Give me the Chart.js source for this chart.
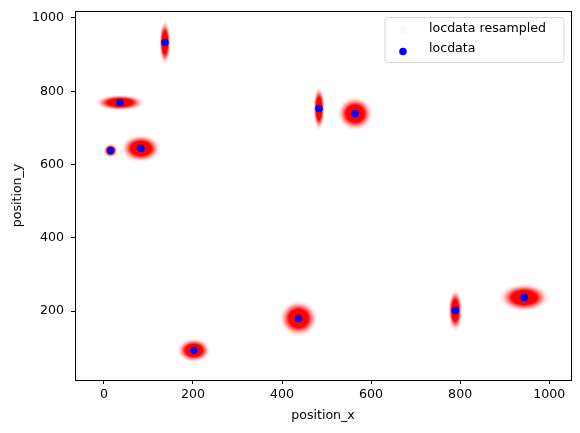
<!DOCTYPE html>
<html>
<head>
<meta charset="utf-8">
<script src="https://cdn.jsdelivr.net/npm/chart.js@4/dist/chart.umd.min.js"></script>
<style>
  html, body { margin: 0; padding: 0; background: #fff; }
  #wrap { width: 580px; height: 433px; }
</style>
</head>
<body>
<div id="wrap"><canvas id="plot" width="580" height="433"></canvas></div>
<script>
// localization centers
const locX = [15, 36, 83, 137, 202, 437, 483, 564, 789, 944];
const locY = [638, 769, 644, 933, 93, 180, 753, 739, 202, 237];
// spread of the resampled cloud around each center (data units)
const spreadX = [16, 56, 45, 13, 38, 43, 13, 40, 16, 56];
const spreadY = [19, 22, 38, 60, 33, 49, 60, 46, 57, 38];

const xTicks = [0, 200, 400, 600, 800, 1000];
const yTicks = [200, 400, 600, 800, 1000];

const FONT = "'DejaVu Sans', sans-serif";
Chart.defaults.font.family = FONT;
Chart.defaults.font.size = 12.6;
Chart.defaults.color = '#000';

const points = locX.map((x, i) => ({ x: x, y: locY[i] }));
const cloudPoints = locX.map((x, i) => ({ x: x, y: locY[i], sx: spreadX[i], sy: spreadY[i] }));

// draws each resampled cloud as a soft red ellipse sized through the scales
const cloudPlugin = {
  id: 'clouds',
  beforeDatasetsDraw(chart) {
    const ctx = chart.ctx;
    const xs = chart.scales.x, ys = chart.scales.y;
    const area = chart.chartArea;
    ctx.save();
    ctx.beginPath();
    ctx.rect(area.left, area.top, area.right - area.left, area.bottom - area.top);
    ctx.clip();
    chart.data.datasets[0].data.forEach(p => {
      const px = xs.getPixelForValue(p.x);
      const py = ys.getPixelForValue(p.y);
      const rx = Math.abs(xs.getPixelForValue(p.x + p.sx) - px);
      const ry = Math.abs(ys.getPixelForValue(p.y + p.sy) - py);
      ctx.save();
      ctx.translate(px, py);
      ctx.scale(rx, ry);
      const g = ctx.createRadialGradient(0, 0, 0, 0, 0, 1);
      g.addColorStop(0, 'rgba(255,0,0,1)');
      g.addColorStop(0.5, 'rgba(255,0,0,1)');
      g.addColorStop(0.7, 'rgba(255,0,0,0.45)');
      g.addColorStop(0.85, 'rgba(255,0,0,0.12)');
      g.addColorStop(1, 'rgba(255,0,0,0)');
      ctx.fillStyle = g;
      ctx.beginPath();
      ctx.arc(0, 0, 1, 0, Math.PI * 2);
      ctx.fill();
      ctx.restore();
    });
    ctx.restore();
  }
};

// frame on all four sides + legend box in upper right
const framePlugin = {
  id: 'frame',
  afterDraw(chart) {
    const ctx = chart.ctx;
    const a = chart.chartArea;
    ctx.save();
    ctx.strokeStyle = '#000';
    ctx.lineWidth = 1;
    ctx.strokeRect(Math.round(a.left) + 0.5, Math.round(a.top) + 0.5,
      Math.round(a.right - a.left), Math.round(a.bottom - a.top));

    // legend
    const bx = 385, by = 17.5, bw = 179, bh = 45, r = 3;
    ctx.beginPath();
    ctx.moveTo(bx + r, by);
    ctx.arcTo(bx + bw, by, bx + bw, by + bh, r);
    ctx.arcTo(bx + bw, by + bh, bx, by + bh, r);
    ctx.arcTo(bx, by + bh, bx, by, r);
    ctx.arcTo(bx, by, bx + bw, by, r);
    ctx.closePath();
    ctx.fillStyle = 'rgba(255,255,255,0.8)';
    ctx.fill();
    ctx.strokeStyle = '#d6d6d6';
    ctx.stroke();

    const ds = chart.data.datasets;
    ctx.font = '12.6px ' + FONT;
    ctx.textBaseline = 'middle';
    ctx.fillStyle = '#000';
    ctx.fillText(ds[0].label, 429, 28.5);
    ctx.fillText(ds[1].label, 429, 48.5);
    ctx.beginPath();
    ctx.arc(403, 30, 3.8, 0, Math.PI * 2);
    ctx.fillStyle = 'rgba(255,0,0,0.04)';
    ctx.fill();
    ctx.beginPath();
    ctx.arc(403, 51.5, 3.8, 0, Math.PI * 2);
    ctx.fillStyle = '#0000ff';
    ctx.fill();
    ctx.restore();
  }
};

new Chart(document.getElementById('plot'), {
  type: 'scatter',
  data: {
    datasets: [
      {
        label: 'locdata resampled',
        data: cloudPoints,
        pointRadius: 0,
        pointHoverRadius: 0,
        backgroundColor: 'rgba(255,0,0,0.05)'
      },
      {
        label: 'locdata',
        data: points,
        pointRadius: 3.8,
        pointHoverRadius: 3.8,
        borderWidth: 0,
        backgroundColor: '#0000ff',
        borderColor: '#0000ff'
      }
    ]
  },
  options: {
    responsive: false,
    animation: false,
    layout: { padding: { top: 11, right: 9, left: 0, bottom: 0 } },
    plugins: { legend: { display: false }, tooltip: { enabled: false } },
    scales: {
      x: {
        type: 'linear',
        min: -65,
        max: 1049,
        afterFit: s => { s.height = 53; s.paddingLeft = 0; s.paddingRight = 0; },
        afterBuildTicks: s => { s.ticks = xTicks.map(v => ({ value: v })); },
        ticks: { padding: 3, color: '#000', font: { size: 12.6 }, callback: v => String(v) },
        grid: { display: true, drawOnChartArea: false, tickLength: 4, color: '#000' },
        border: { display: true, color: '#000', width: 1 },
        title: { display: true, text: 'position_x', color: '#000', font: { size: 12.6 }, padding: { top: 0, bottom: 10 } }
      },
      y: {
        type: 'linear',
        min: 12,
        max: 1019,
        afterFit: s => { s.width = 75; s.paddingTop = 0; s.paddingBottom = 0; },
        afterBuildTicks: s => { s.ticks = yTicks.map(v => ({ value: v })); },
        ticks: { padding: 7, color: '#000', font: { size: 12.6 }, callback: v => String(v) },
        grid: { display: true, drawOnChartArea: false, tickLength: 4, color: '#000' },
        border: { display: true, color: '#000', width: 1 },
        title: { display: true, text: 'position_y', color: '#000', font: { size: 12.6 }, padding: { top: 10, bottom: 0 } }
      }
    }
  },
  plugins: [cloudPlugin, framePlugin]
});
</script>
</body>
</html>
